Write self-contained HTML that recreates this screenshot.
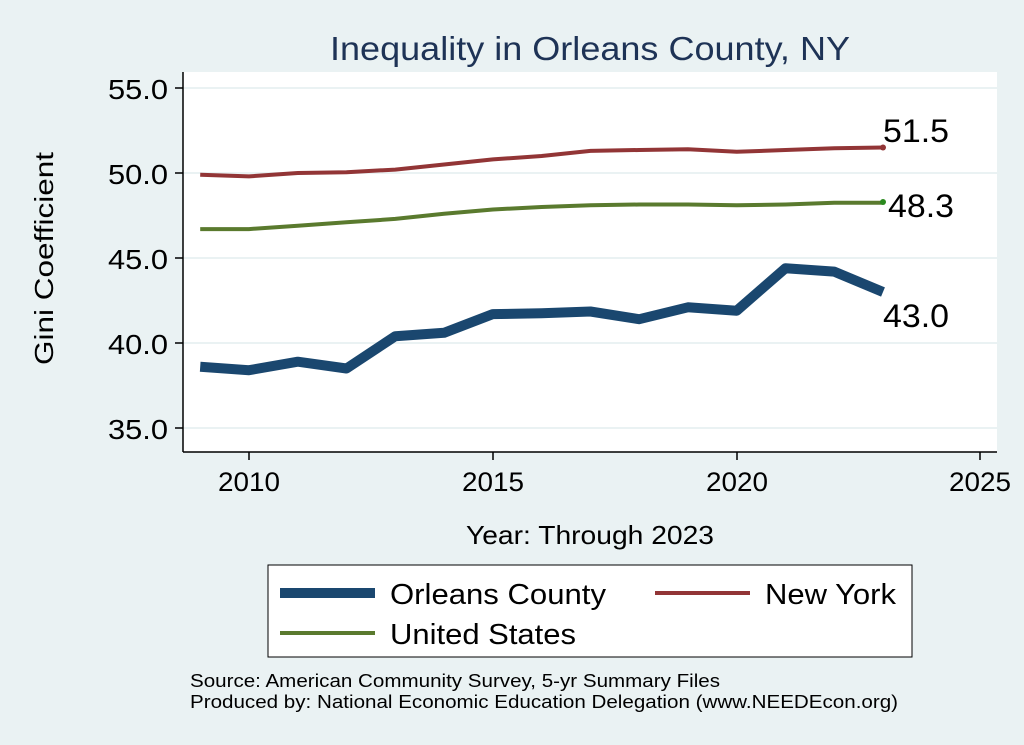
<!DOCTYPE html>
<html><head><meta charset="utf-8"><style>
html,body{margin:0;padding:0;background:#eaf2f3;}
svg{display:block;font-family:"Liberation Sans",Arial,sans-serif;}
</style></head><body>
<svg id="s" width="1024" height="745" xmlns="http://www.w3.org/2000/svg">
<rect width="1024" height="745" fill="#eaf2f3"/>
<rect x="183" y="72" width="814" height="380" fill="#fff"/>
<text x="330" y="60" font-size="33" fill="#1e3356" textLength="520" lengthAdjust="spacingAndGlyphs">Inequality in Orleans County, NY</text>
<g stroke="#eaf2f3" stroke-width="2">
<line x1="183" x2="997" y1="88" y2="88"/><line x1="183" x2="997" y1="173" y2="173"/>
<line x1="183" x2="997" y1="258" y2="258"/><line x1="183" x2="997" y1="343" y2="343"/>
<line x1="183" x2="997" y1="428" y2="428"/>
</g>
<g stroke="#000" stroke-width="1.5">
<line x1="183" x2="183" y1="72" y2="452"/><line x1="183" x2="997" y1="452" y2="452"/>
<line x1="175" x2="183" y1="88" y2="88"/><line x1="175" x2="183" y1="173" y2="173"/>
<line x1="175" x2="183" y1="258" y2="258"/><line x1="175" x2="183" y1="343" y2="343"/>
<line x1="175" x2="183" y1="428" y2="428"/>
<line x1="249" x2="249" y1="452" y2="460"/><line x1="493" x2="493" y1="452" y2="460"/>
<line x1="737" x2="737" y1="452" y2="460"/><line x1="980" x2="980" y1="452" y2="460"/>
</g>
<g font-size="28" fill="#000">
<text x="108" y="99" textLength="60" lengthAdjust="spacingAndGlyphs">55.0</text>
<text x="108" y="184" textLength="60" lengthAdjust="spacingAndGlyphs">50.0</text>
<text x="108" y="269" textLength="60" lengthAdjust="spacingAndGlyphs">45.0</text>
<text x="108" y="354" textLength="60" lengthAdjust="spacingAndGlyphs">40.0</text>
<text x="108" y="439" textLength="60" lengthAdjust="spacingAndGlyphs">35.0</text>
</g>
<g font-size="27">
<text x="218" y="491" textLength="62" lengthAdjust="spacingAndGlyphs">2010</text>
<text x="462" y="491" textLength="62" lengthAdjust="spacingAndGlyphs">2015</text>
<text x="706" y="491" textLength="62" lengthAdjust="spacingAndGlyphs">2020</text>
<text x="949" y="491" textLength="62" lengthAdjust="spacingAndGlyphs">2025</text>
</g>
<text x="466" y="544" font-size="26" textLength="248" lengthAdjust="spacingAndGlyphs">Year: Through 2023</text>
<text transform="translate(53,365) rotate(-90)" font-size="26" textLength="213" lengthAdjust="spacingAndGlyphs">Gini Coefficient</text>
<polyline id="ny" fill="none" stroke="#923536" stroke-width="4"/>
<polyline id="us" fill="none" stroke="#5a7a2e" stroke-width="4"/>
<polyline id="oc" fill="none" stroke="#1a476f" stroke-width="10" stroke-linejoin="round"/>
<circle cx="883" cy="147.5" r="3" fill="#923536"/>
<circle cx="883" cy="202" r="3" fill="#2a8a1e"/>
<g font-size="32">
<text x="883" y="142" textLength="66" lengthAdjust="spacingAndGlyphs">51.5</text>
<text x="888" y="217" textLength="66" lengthAdjust="spacingAndGlyphs">48.3</text>
<text x="883" y="327" textLength="66" lengthAdjust="spacingAndGlyphs">43.0</text>
</g>
<rect x="268" y="565" width="644" height="92" fill="#fff" stroke="#000" stroke-width="1"/>
<line x1="280" x2="375" y1="593" y2="593" stroke="#1a476f" stroke-width="10"/>
<line x1="655" x2="750" y1="593" y2="593" stroke="#923536" stroke-width="4"/>
<line x1="280" x2="375" y1="633" y2="633" stroke="#5a7a2e" stroke-width="4"/>
<g font-size="29">
<text x="390" y="604" textLength="216" lengthAdjust="spacingAndGlyphs">Orleans County</text>
<text x="765" y="604" textLength="131" lengthAdjust="spacingAndGlyphs">New York</text>
<text x="390" y="644" textLength="186" lengthAdjust="spacingAndGlyphs">United States</text>
</g>
<g font-size="18">
<text x="190" y="687" textLength="530" lengthAdjust="spacingAndGlyphs">Source: American Community Survey, 5-yr Summary Files</text>
<text x="190" y="708" textLength="708" lengthAdjust="spacingAndGlyphs">Produced by: National Economic Education Delegation (www.NEEDEcon.org)</text>
</g>
</svg>
<script>
function pts(a){return a.map((v,i)=>((249+(i-1)*48.77).toFixed(1)+","+(173-(v-50)*17).toFixed(1))).join(" ");}
document.getElementById("oc").setAttribute("points",pts([38.6,38.4,38.9,38.5,40.4,40.6,41.7,41.75,41.85,41.4,42.1,41.9,44.4,44.2,43.0]));
document.getElementById("ny").setAttribute("points",pts([49.9,49.8,50.0,50.05,50.2,50.5,50.8,51.0,51.3,51.35,51.4,51.25,51.35,51.45,51.5]));
document.getElementById("us").setAttribute("points",pts([46.7,46.7,46.9,47.1,47.3,47.6,47.85,48.0,48.1,48.15,48.15,48.1,48.15,48.25,48.25]));
</script>
</body></html>
